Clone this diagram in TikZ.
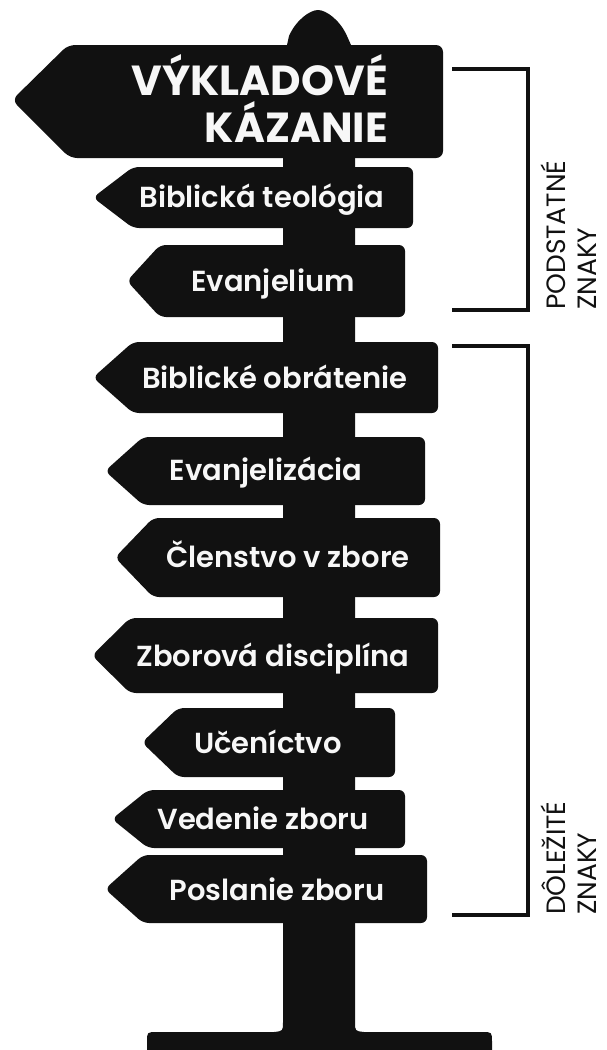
\documentclass[tikz,border=0pt]{standalone}
\usepackage{fontspec}
\setmainfont{Poppins}
\newfontfamily\semifont{Poppins SemiBold}
\newfontfamily\boldfont{Poppins Bold}
\definecolor{signfill}{HTML}{111111}
\definecolor{signtext}{HTML}{F7F7F7}
\tikzset{
  signtxt/.style={text=signtext, inner sep=0pt, anchor=base, font=\semifont\fontsize{29}{33}\selectfont},
  toptxt/.style={text=signtext, inner sep=0pt, anchor=base east, font=\boldfont\fontsize{42}{47}\selectfont},
  sidelabel/.style={text=signfill, inner sep=0pt, text depth=0pt, anchor=base west, rotate=90, font=\fontsize{26.5}{30}\selectfont},
  bracketline/.style={draw=signfill, line width=4pt},
}
% #1 tip x, #2 body left x, #3 right x, #4 top y, #5 bottom y
\newcommand\signshape[5]{%
  \fill[signfill, rounded corners=6pt] (#1,{(#4+#5)/2}) -- (#2,#4) -- (#3,#4) -- (#3,#5) -- (#2,#5) -- cycle;}
\begin{document}
\begin{tikzpicture}[x=1pt,y=-1pt]
\useasboundingbox (0,0) rectangle (606,1050);
% post with head and base
\fill[signfill] (283,60) -- (287,45) -- (289,36) .. controls (296,20) and (310,10) .. (318,10)
  .. controls (326,10) and (340,20) .. (347,36) -- (351,45) -- (355,60)
  -- (355,1022) .. controls (355,1031) .. (364,1032)
  -- (482,1032) .. controls (492,1032) .. (492,1042) -- (492,1060)
  -- (147,1060) -- (147,1042) .. controls (147,1032) .. (157,1032)
  -- (274,1032) .. controls (283,1031) .. (283,1022) -- cycle;
% signs
\fill[signfill, rounded corners=7pt] (12,100) -- (68,45) -- (443,45) -- (443,158) -- (70,158) -- cycle;
\signshape{93}{133}{413}{167}{228}
\signshape{127}{160}{405}{245}{317}
\signshape{93}{133}{438}{342}{413}
\signshape{105}{143}{425}{437}{505}
\signshape{115}{153}{440}{518}{597}
\signshape{92}{130}{438}{618}{693}
\signshape{142}{178}{395}{708}{777}
\signshape{112}{148}{405}{790}{848}
\signshape{105}{143}{427}{855}{923}
% texts
\node[toptxt] (t1a) at (388,95) {VÝKLADOVÉ};
\node[toptxt] (t1b) at (388,142) {KÁZANIE};
\node[signtxt] (t2) at (262,207) {Biblická teológia};
\node[signtxt] (t3) at (273,291) {Evanjelium};
\node[signtxt] (t4) at (275,388) {Biblické obrátenie};
\node[signtxt] (t5) at (266,480) {Evanjelizácia};
\node[signtxt] (t6) at (288,567) {Členstvo v zbore};
\node[signtxt] (t7) at (273,666) {Zborová disciplína};
\node[signtxt] (t8) at (268,753) {Učeníctvo};
\node[signtxt] (t9) at (263,829) {Vedenie zboru};
\node[signtxt] (t10) at (277,900) {Poslanie zboru};
% brackets
\draw[bracketline] (452,69) -- (528,69) -- (528,310) -- (452,310);
\draw[bracketline] (452,346) -- (528,346) -- (528,915) -- (452,915);
\node[sidelabel] (p1) at (565,310) {PODSTATNÉ};
\node[sidelabel] (p2) at (596,310) {ZNAKY};
\node[sidelabel] (d1) at (565,915) {DÔLEŽITÉ};
\node[sidelabel] (d2) at (596,915) {ZNAKY};
\end{tikzpicture}
\end{document}
